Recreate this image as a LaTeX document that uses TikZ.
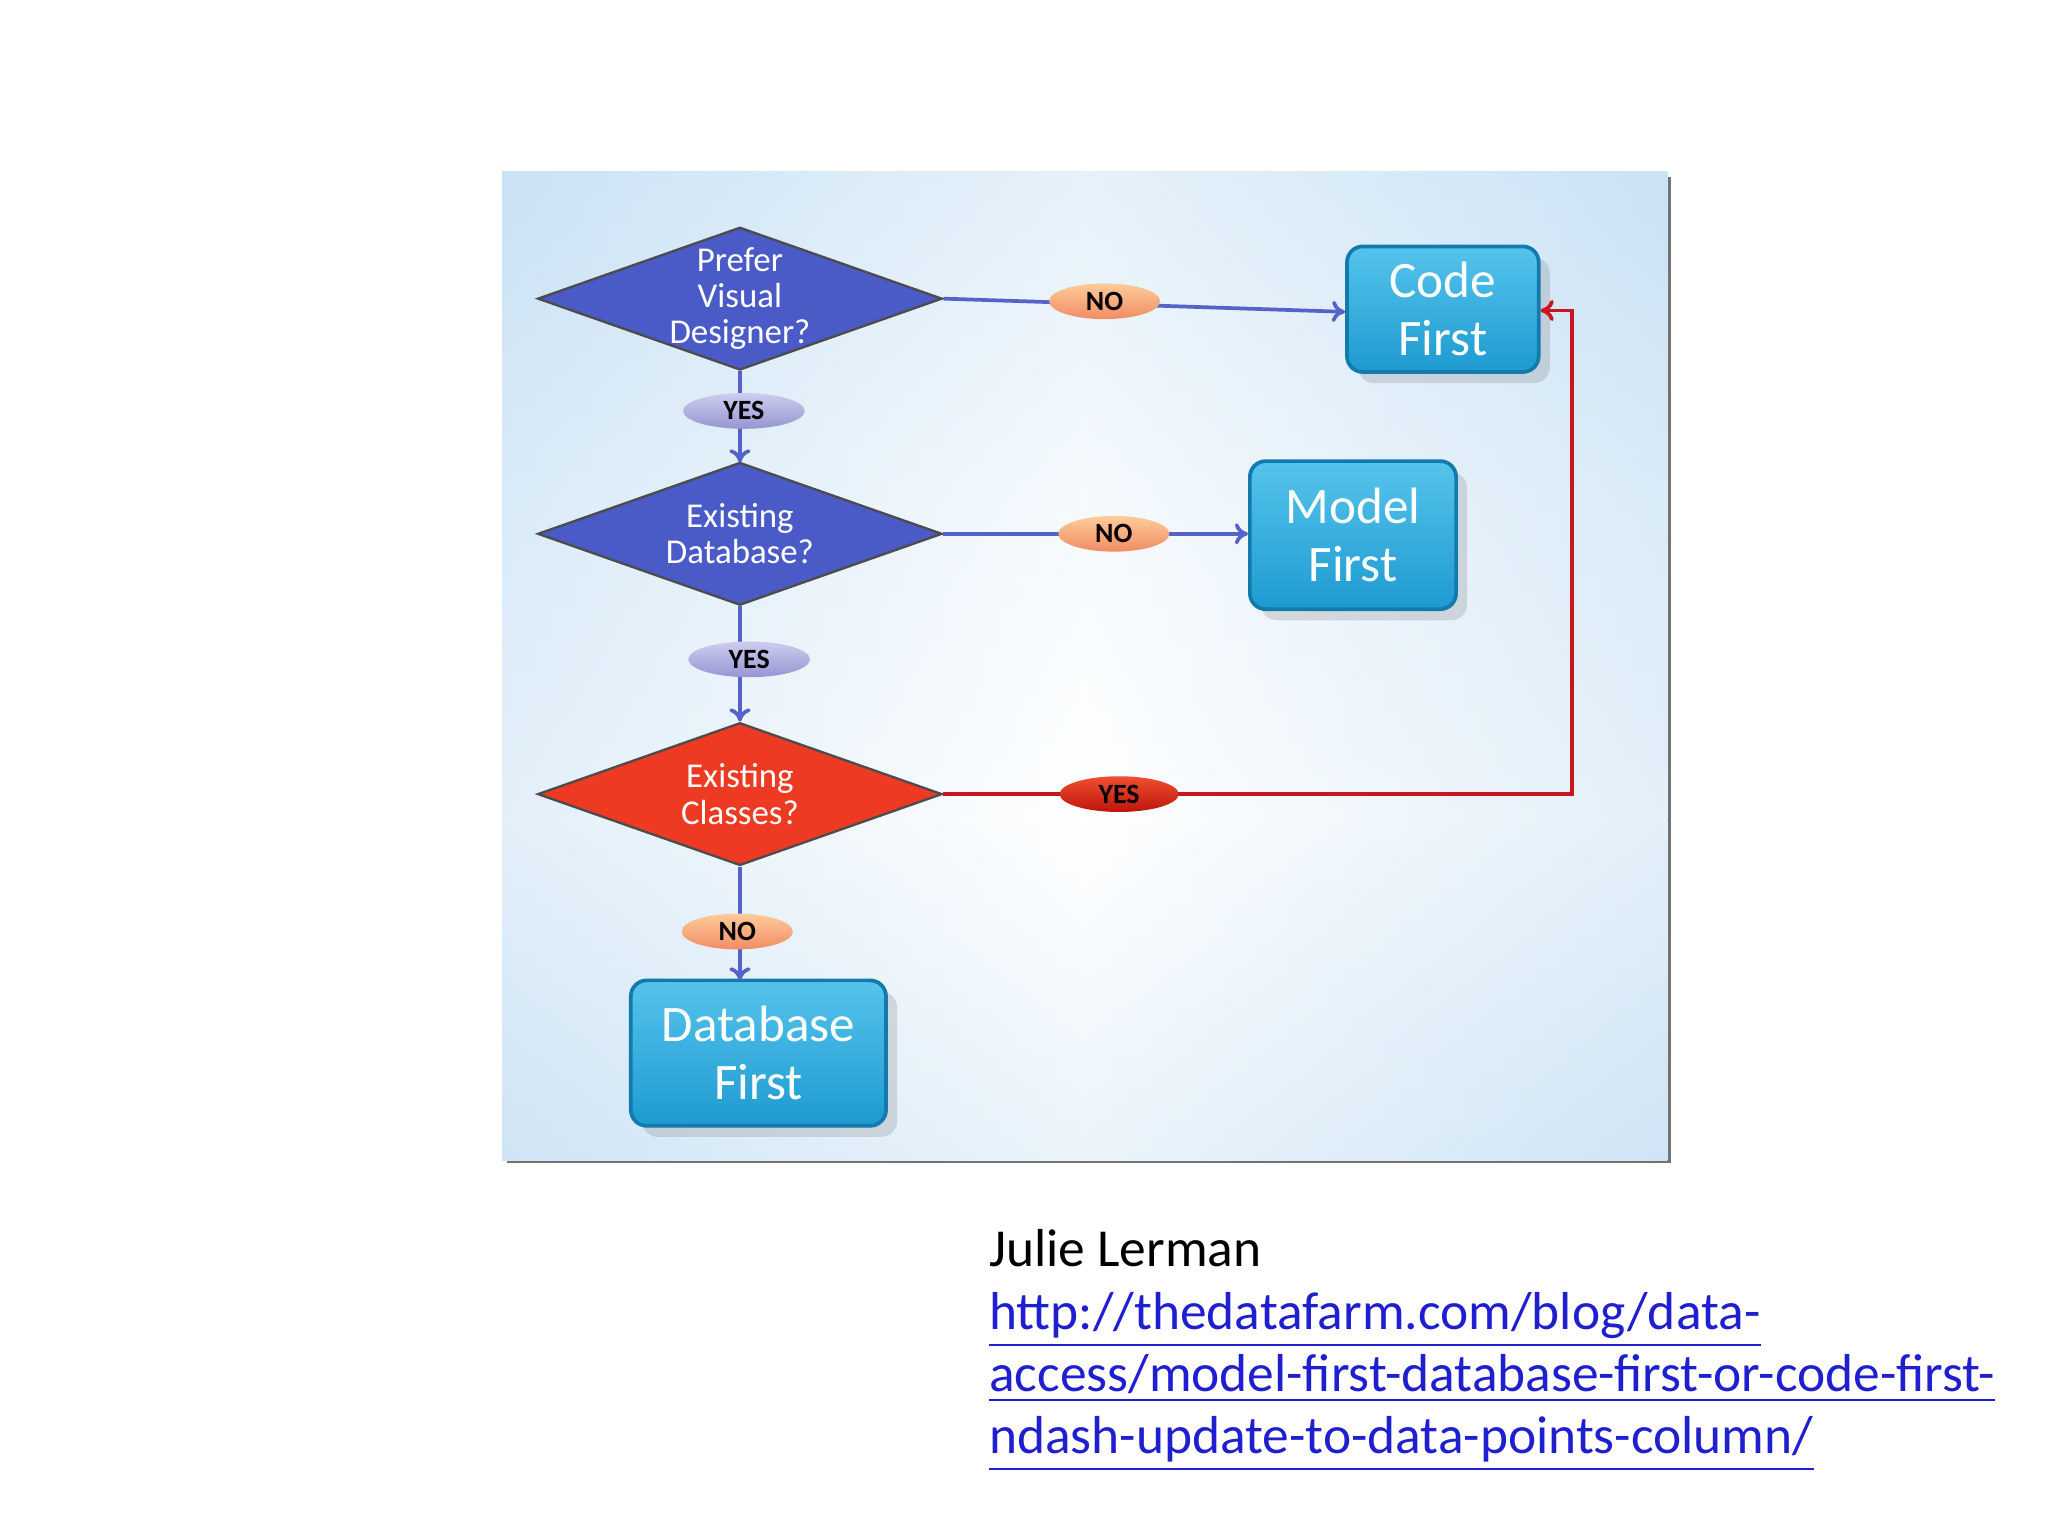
\documentclass[tikz,border=0pt]{standalone}
\usepackage{fontspec}
\setmainfont{Carlito}
\usetikzlibrary{shapes.geometric,arrows.meta,shadows}
\definecolor{dblue}{HTML}{4A5BC8}
\definecolor{dred}{HTML}{EE3A22}
\definecolor{lblue}{HTML}{5562C8}
\definecolor{lred}{HTML}{C8161E}
\definecolor{boxtop}{HTML}{55C4EC}
\definecolor{boxbot}{HTML}{1E9AD0}
\definecolor{boxdraw}{HTML}{137AAE}
\definecolor{linkc}{HTML}{1F1FD0}
\tikzset{
 x=0.01cm,y=-0.01cm,
 dia/.style={diamond,draw=black!70,line width=0.5pt,minimum width=3.06cm,minimum height=1.08cm,inner sep=0pt,aspect=2.8},
 dtext/.style={text=white,font=\fontsize{7.5}{7.8}\selectfont,align=center},
 fbox/.style={draw=boxdraw,line width=0.8pt,rounded corners=0.12cm,top color=boxtop,bottom color=boxbot,text=white,font=\fontsize{11}{12.5}\selectfont,align=center,drop shadow={opacity=0.25}},
 lab/.style={ellipse,inner sep=0pt,minimum height=0.27cm,font=\bfseries\fontsize{6}{6}\selectfont},
 nolab/.style={lab,top color=orange!40!white,bottom color={rgb,255:red,240;green,140;blue,100},minimum width=0.84cm},
 yeslab/.style={lab,top color={rgb,255:red,205;green,205;blue,240},bottom color={rgb,255:red,150;green,150;blue,210},minimum width=0.92cm},
 redlab/.style={lab,top color={rgb,255:red,240;green,80;blue,50},bottom color={rgb,255:red,190;green,20;blue,10},minimum width=0.90cm},
 bl/.style={draw=lblue,line width=0.8pt},
 rl/.style={draw=lred,line width=0.8pt},
 arr/.style={-{To[length=1mm,width=1.6mm]}},
}
\begin{document}
\begin{tikzpicture}
\useasboundingbox (0,0) rectangle (1550,1162);
\fill[white] (0,0) rectangle (1550,1162);
% panel
\fill[black!55] (384,134) rectangle (1265,880);
\shade[top color={rgb,255:red,205;green,228;blue,246},bottom color=white,middle color={rgb,255:red,236;green,245;blue,252}] (380,130) rectangle (1262,620);
\shade[top color=white,bottom color={rgb,255:red,215;green,233;blue,247}] (380,620) rectangle (1262,878);
\shade[left color={rgb,255:red,200;green,225;blue,245},right color={rgb,255:red,200;green,225;blue,245},middle color=white,opacity=0.5] (380,130) rectangle (1262,878);
% diamonds
\node[dia,fill=dblue] (d1) at (560,226) {};
\node[dtext] (t1) at (d1) {Prefer\\Visual\\Designer?};
\node[dia,fill=dblue] (d2) at (560,404) {};
\node[dtext] (t2) at (d2) {Existing\\Database?};
\node[dia,fill=dred] (d3) at (560,601) {};
\node[dtext] (t3) at (d3) {Existing\\Classes?};
% boxes
\node[fbox,minimum width=1.45cm,minimum height=0.95cm] (cf) at (1092,234) {Code\\First};
\node[fbox,minimum width=1.56cm,minimum height=1.12cm] (mf) at (1024,405) {Model\\First};
\node[fbox,minimum width=1.93cm,minimum height=1.10cm] (df) at (574,797) {Database\\First};
% connectors
\coordinate (rc) at (1190,601);
\coordinate (rt) at (1190,235);
\draw[bl,arr] (d1.east) -- (cf.west |- 0,236);
\draw[bl,arr] (d1.south) -- (560,350);
\draw[bl,arr] (d2.east) -- (mf.west |- d2.east);
\draw[bl,arr] (d2.south) -- (d3.north);
\draw[bl,arr] (d3.south) -- (560,742);
\draw[rl,arr] (d3.east) -- (rc) -- (rt) -- (cf.east |- rt);
% labels
\node[nolab] (n1) at (836,228) {NO};
\node[yeslab] (y1) at (563,311) {YES};
\node[nolab] (n2) at (843,404) {NO};
\node[yeslab] (y2) at (567,499) {YES};
\node[redlab] (y3) at (847,601) {YES};
\node[nolab] (n3) at (558,705) {NO};
% footer
\node[anchor=north west,inner sep=0pt,align=left,font=\fontsize{11.5}{13.4}\selectfont] (cr) at (748,930) {Julie Lerman\\
\textcolor{linkc}{\underline{http://thedatafarm.com/blog/data-}}\\
\textcolor{linkc}{\underline{access/model-first-database-first-or-code-first-}}\\
\textcolor{linkc}{\underline{ndash-update-to-data-points-column/}}};
\end{tikzpicture}
\end{document}
